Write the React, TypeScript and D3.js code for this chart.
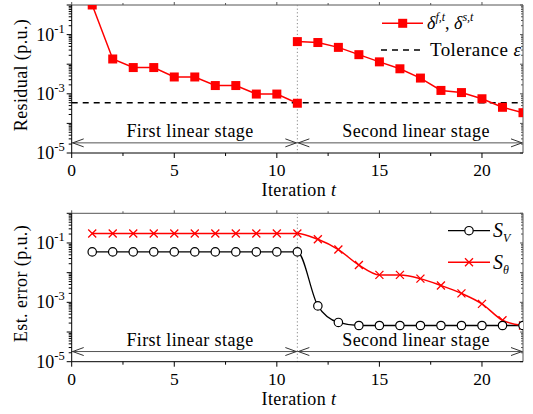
import React from 'react';
import * as d3 from 'd3';

// Residual, first linear stage (t = 1..11)
const iterFirst = [1, 2, 3, 4, 5, 6, 7, 8, 9, 10, 11];
const residualFirst = [1, 0.015, 0.0077, 0.0077, 0.0037, 0.0037, 0.0019, 0.0019, 0.00098, 0.00098, 0.00048];
// Residual, second linear stage (t = 11..22)
const iterSecond = [11, 12, 13, 14, 15, 16, 17, 18, 19, 20, 21, 22];
const residualSecond = [0.058, 0.054, 0.037, 0.021, 0.012, 0.007, 0.0034, 0.0013, 0.0011, 0.00068, 0.00035, 0.00023];
const tolerance = 5e-4;

// Estimation error
const iterAll = d3.range(1, 23);
const errV = [0.05, 0.05, 0.05, 0.05, 0.05, 0.05, 0.05, 0.05, 0.05, 0.05, 0.05, 0.00076, 0.00021, 0.000166, 0.000166, 0.000166, 0.000166, 0.000166, 0.000166, 0.000166, 0.000166, 0.000166];
const errTheta = [0.21, 0.21, 0.21, 0.21, 0.21, 0.21, 0.21, 0.21, 0.21, 0.21, 0.21, 0.133, 0.06, 0.018, 0.0084, 0.0084, 0.0063, 0.0037, 0.002, 0.00089, 0.00025, 0.000166];

const xTicks = [0, 5, 10, 15, 20];
const xMinor = [2.5, 7.5, 12.5, 17.5];
const yLabelExp = [-5, -3, -1];
const stageSplit = 11;

const FONT = '"Liberation Serif", "Times New Roman", serif';
const RED = '#ff0000';
const LS = 0.4;

const left = 71.7, right = 523;
const x = d3.scaleLinear().domain([0, 22]).range([left, right]);

const arrowHead = (px: number, py: number, dir: number) =>
  `M${px + dir * 11},${py - 4}L${px},${py}L${px + dir * 11},${py + 4}`;

function Panel({ top, bottom, id, yTitle, children }: any) {
  const y = d3.scaleLog().domain([1e-5, 1]).range([bottom, top]);
  const minor: number[] = [];
  for (let e = -5; e < 0; e++) for (let m = 2; m <= 9; m++) minor.push(m * Math.pow(10, e));
  const majors = d3.range(-5, 1).map(e => Math.pow(10, e));
  const arrowY = y(2.2e-5);
  const xs = x(stageSplit);
  return (
    <g>
      <defs>
        <clipPath id={id}>
          <rect x={left} y={top} width={right - left} height={bottom - top} />
        </clipPath>
      </defs>
      {/* frame */}
      <line x1={left} x2={right} y1={top} y2={top} stroke="#555" />
      <line x1={right} x2={right} y1={top} y2={bottom} stroke="#555" />
      {/* y ticks */}
      {majors.map(v => (
        <g key={'M' + v}>
          <line x1={left - 5} x2={left} y1={y(v)} y2={y(v)} stroke="#000" />
          <line x1={right} x2={right - 3} y1={y(v)} y2={y(v)} stroke="#555" />
        </g>
      ))}
      {minor.map(v => (
        <g key={'m' + v}>
          <line x1={left - 3} x2={left} y1={y(v)} y2={y(v)} stroke="#000" />
          <line x1={right} x2={right - 2} y1={y(v)} y2={y(v)} stroke="#555" />
        </g>
      ))}
      {yLabelExp.map(e => (
        <text key={e} x={left - 7} y={y(Math.pow(10, e)) + 6} textAnchor="end" fontSize={18} fontFamily={FONT}>
          10<tspan fontSize={12.5} dy={-8}>{`-${-e}`}</tspan>
        </text>
      ))}
      {/* x ticks */}
      {xTicks.map(t => (
        <g key={t}>
          <line x1={x(t)} x2={x(t)} y1={bottom} y2={bottom + 5} stroke="#000" />
          <line x1={x(t)} x2={x(t)} y1={top} y2={top - 3} stroke="#555" />
          <text x={x(t)} y={bottom + 23} textAnchor="middle" fontSize={17.5} fontFamily={FONT}>{t}</text>
        </g>
      ))}
      {xMinor.map(t => (
        <g key={t}>
          <line x1={x(t)} x2={x(t)} y1={bottom} y2={bottom + 3} stroke="#000" />
          <line x1={x(t)} x2={x(t)} y1={top} y2={top - 2} stroke="#555" />
        </g>
      ))}
      <text x={299} y={bottom + 43} textAnchor="middle" fontSize={18} letterSpacing={LS} fontFamily={FONT}>
        Iteration <tspan fontStyle="italic">t</tspan>
      </text>
      <text transform={`translate(27,${(top + bottom) / 2 - 4}) rotate(-90)`} textAnchor="middle" fontSize={18} letterSpacing={LS} fontFamily={FONT}>
        {yTitle}
      </text>
      {/* stage split and arrows */}
      <line x1={xs} x2={xs} y1={top} y2={bottom} stroke="#888" strokeDasharray="1.2,2.4" />
      <line x1={left} x2={right} y1={arrowY} y2={arrowY} stroke="#555" />
      <g fill="none" stroke="#333">
        <path d={arrowHead(left + 1, arrowY, 1)} />
        <path d={arrowHead(xs - 1, arrowY, -1)} />
        <path d={arrowHead(xs + 1, arrowY, 1)} />
        <path d={arrowHead(right - 1, arrowY, -1)} />
      </g>
      <text x={190} y={arrowY - 5.5} textAnchor="middle" fontSize={18} letterSpacing={LS} fontFamily={FONT}>First linear stage</text>
      <text x={416} y={arrowY - 5.5} textAnchor="middle" fontSize={18} letterSpacing={LS} fontFamily={FONT}>Second linear stage</text>
      <g clipPath={`url(#${id})`}>{children(y)}</g>
      {/* axes */}
      <line x1={left} x2={left} y1={top} y2={bottom} stroke="#000" />
      <line x1={left} x2={right} y1={bottom} y2={bottom} stroke="#000" />
    </g>
  );
}

const Cross = ({ cx, cy, s = 4 }: any) => (
  <path d={`M${cx - s},${cy - s}L${cx + s},${cy + s}M${cx - s},${cy + s}L${cx + s},${cy - s}`} stroke={RED} strokeWidth={1.3} fill="none" />
);

export default function App() {
  const straight = d3.line<[number, number]>();
  return (
    <svg width={533} height={414} style={{ position: 'absolute', left: 0, top: 0, background: '#fff' }}>
      <Panel top={5} bottom={153} id="clipTop" yTitle="Residual (p.u.)">
        {(y: any) => {
          const p1 = iterFirst.map((t, i) => [x(t), y(residualFirst[i])] as [number, number]);
          const p2 = iterSecond.map((t, i) => [x(t), y(residualSecond[i])] as [number, number]);
          return (
            <g>
              <line x1={left} x2={right} y1={y(tolerance)} y2={y(tolerance)} stroke="#000" strokeWidth={1.5} strokeDasharray="6,5" />
              <path d={straight(p1) || ''} fill="none" stroke={RED} strokeWidth={1.5} />
              <path d={straight(p2) || ''} fill="none" stroke={RED} strokeWidth={1.5} />
              {[...p1, ...p2].map((p, i) => (
                <rect key={i} x={p[0] - 4.5} y={p[1] - 4.5} width={9} height={9} fill={RED} />
              ))}
            </g>
          );
        }}
      </Panel>
      {/* top legend */}
      <line x1={382} x2={423} y1={23.3} y2={23.3} stroke={RED} strokeWidth={1.5} />
      <rect x={402.7 - 4.5} y={23.3 - 4.5} width={9} height={9} fill={RED} />
      <text x={427} y={29} fontSize={18} fontFamily={FONT}>
        <tspan fontStyle="italic">δ</tspan><tspan fontStyle="italic" fontSize={12} dy={-8}>f,t</tspan>
        <tspan dy={8}>, </tspan><tspan fontStyle="italic">δ</tspan><tspan fontStyle="italic" fontSize={12} dy={-8}>s,t</tspan>
      </text>
      <line x1={381} x2={421} y1={50} y2={50} stroke="#000" strokeWidth={1.5} strokeDasharray="6,5" />
      <text x={430} y={56} fontSize={19} letterSpacing={LS} fontFamily={FONT}>
        Tolerance <tspan fontStyle="italic">ε</tspan>
      </text>

      <Panel top={213.3} bottom={361.7} id="clipBot" yTitle="Est. error (p.u.)">
        {(y: any) => {
          const curve = d3.line<[number, number]>().curve(d3.curveMonotoneX);
          const pv = iterAll.map((t, i) => [x(t), y(errV[i])] as [number, number]);
          const pt = iterAll.map((t, i) => [x(t), y(errTheta[i])] as [number, number]);
          return (
            <g>
              <path d={curve(pv) || ''} fill="none" stroke="#000" strokeWidth={1.3} />
              <path d={curve(pt) || ''} fill="none" stroke={RED} strokeWidth={1.5} />
              {pt.map((p, i) => <Cross key={i} cx={p[0]} cy={p[1]} />)}
              {pv.map((p, i) => (
                <circle key={i} cx={p[0]} cy={p[1]} r={4.2} fill="#fff" stroke="#000" strokeWidth={1.2} />
              ))}
            </g>
          );
        }}
      </Panel>
      {/* bottom legend */}
      <line x1={448} x2={490} y1={230.7} y2={230.7} stroke="#000" strokeWidth={1.3} />
      <circle cx={469} cy={230.7} r={4.2} fill="#fff" stroke="#000" strokeWidth={1.2} />
      <text x={493} y={237} fontSize={20} fontFamily={FONT} fontStyle="italic">
        S<tspan fontSize={12} dy={5}>V</tspan>
      </text>
      <line x1={448} x2={490} y1={262.3} y2={262.3} stroke={RED} strokeWidth={1.5} />
      <Cross cx={469} cy={262.3} />
      <text x={493} y={268.5} fontSize={20} fontFamily={FONT} fontStyle="italic">
        S<tspan fontSize={12} dy={5}>θ</tspan>
      </text>
    </svg>
  );
}
